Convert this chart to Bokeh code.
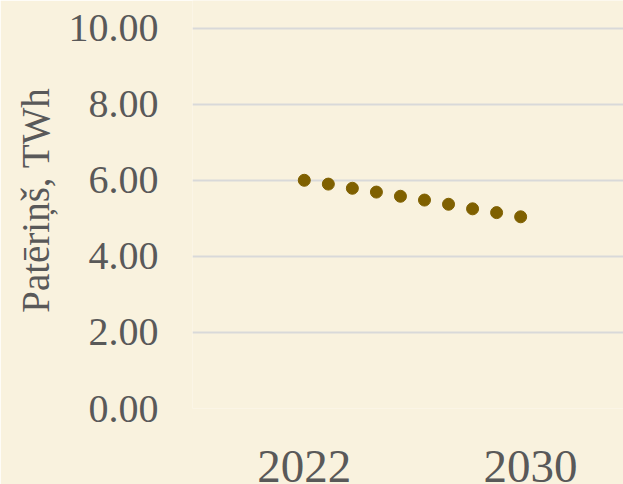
from bokeh.plotting import figure
from bokeh.models import FixedTicker, NumeralTickFormatter, Range1d, ColumnDataSource, Title
from bokeh.embed import file_html
from bokeh.resources import INLINE

# Data
years = [2022.0, 2022.85, 2023.7, 2024.55, 2025.4, 2026.25, 2027.1, 2027.95, 2028.8, 2029.65]
consumption = [6.00, 5.90, 5.79, 5.69, 5.58, 5.48, 5.37, 5.25, 5.15, 5.04]
x_ticks = [2022, 2030]
y_ticks = [0, 2, 4, 6, 8, 10]
y_title = "Patēriņš, TWh"

BG = "#F9F2DE"
TXT = "#595959"
FONT = "Liberation Serif"

src = ColumnDataSource(dict(x=years, y=consumption))

p = figure(width=623, height=484, output_backend="svg", toolbar_location=None,
           x_range=Range1d(2018.047, 2033.287), y_range=Range1d(0, 10.727),
           min_border_left=192, min_border_right=0, min_border_top=0, min_border_bottom=71)
p.background_fill_color = BG
p.border_fill_color = BG
p.outline_line_color = None

p.scatter("x", "y", source=src, size=12, fill_color="#7F6000", line_color="#7F6000")

# axes
p.yaxis.ticker = FixedTicker(ticks=y_ticks)
p.yaxis.formatter = NumeralTickFormatter(format="0.00")
p.xaxis.ticker = FixedTicker(ticks=x_ticks)
for ax in (p.xaxis[0], p.yaxis[0]):
    ax.axis_line_color = None
    ax.major_tick_line_color = None
    ax.minor_tick_line_color = None
    ax.major_label_text_font = FONT
    ax.major_label_text_color = TXT
p.yaxis.major_label_text_font_size = "40px"
p.yaxis.major_label_standoff = 28
p.xaxis.major_label_text_font_size = "47px"
p.xaxis.major_label_standoff = 36

# y-axis title placed as a side title so it can sit higher than the frame centre
ytitle = Title(text=y_title, align="right", offset=87, vertical_align="middle",
               text_font=FONT, text_font_size="39px", text_font_style="normal",
               text_color=TXT, standoff=16)
p.add_layout(ytitle, "left")

p.xgrid.grid_line_color = None
p.ygrid.ticker = FixedTicker(ticks=y_ticks)
p.ygrid.grid_line_color = "#D9D9D9"
p.ygrid.grid_line_width = 2

open("out.html", "w").write(file_html(p, INLINE))
